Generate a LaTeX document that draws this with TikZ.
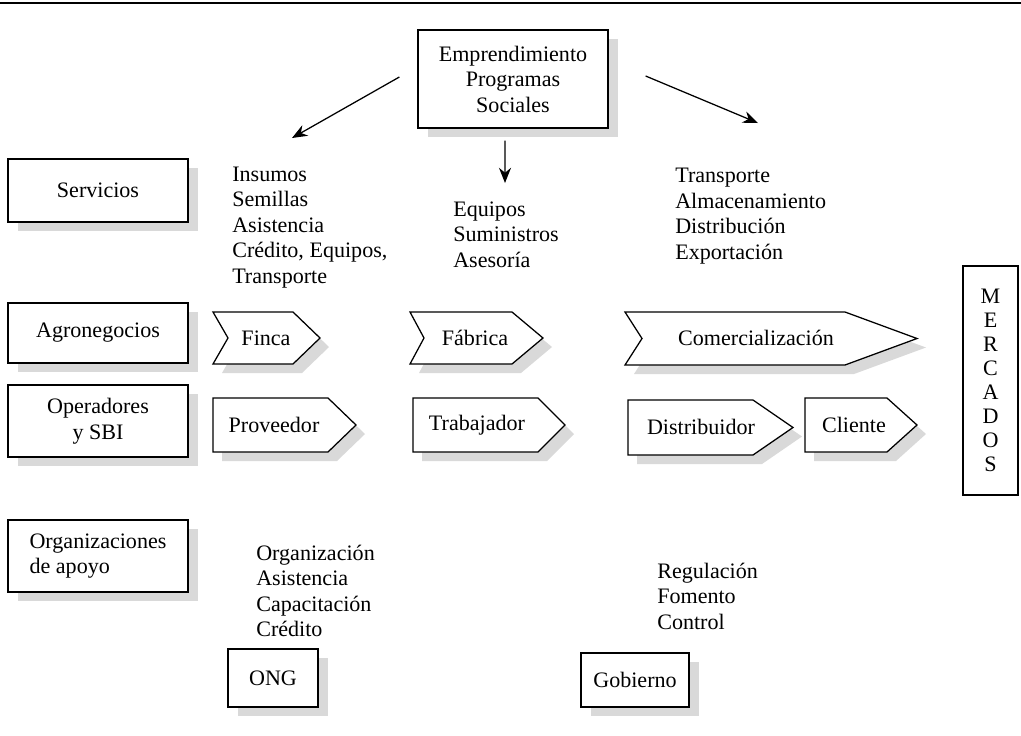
\documentclass[tikz,border=0pt]{standalone}
\usepackage{fontspec}
\setmainfont{Liberation Serif}
\usetikzlibrary{arrows.meta,shadows}
\tikzset{
  box/.style={draw,fill=white,line width=0.9pt,align=center,
    general shadow={fill=black!15,shadow xshift=2.4mm,shadow yshift=-2.2mm}},
  rowbox/.style={box,minimum width=45mm},
  lista/.style={align=left,anchor=west,inner sep=0pt},
  flecha/.style={line width=0.9pt,-{Stealth[length=3.8mm,width=3mm]}},
}
% chevron: left, notch, corner, tip, top, bottom
\newcommand{\chevron}[6]{%
  \fill[black!15,shift={(9,9)}] (#1,#5) -- (#3,#5) -- (#4,{(#5+#6)/2}) -- (#3,#6) -- (#1,#6) -- (#2,{(#5+#6)/2}) -- cycle;
  \filldraw[fill=white,line width=0.9pt] (#1,#5) -- (#3,#5) -- (#4,{(#5+#6)/2}) -- (#3,#6) -- (#1,#6) -- (#2,{(#5+#6)/2}) -- cycle;}
\begin{document}
\begin{tikzpicture}[x=0.25mm,y=-0.25mm,font=\fontsize{15.7}{18.1}\selectfont]
\useasboundingbox (0,0) rectangle (1021,735);
\draw[line width=0.6mm] (0,3) -- (1021,3);
% top
\node[box,minimum width=47.5mm,minimum height=24.5mm] (prog) at (513,79) {Emprendimiento\\Programas\\Sociales};
\coordinate (izq) at (292,138);
\coordinate (centro) at (505,183);
\coordinate (der) at (758,123);
\draw[flecha] ([xshift=-4.5mm,yshift=0.5mm]prog.west) -- (izq);
\draw[flecha] ([xshift=-2mm,yshift=-3mm]prog.south) -- (centro);
\draw[flecha] ([xshift=9.25mm,yshift=0.75mm]prog.east) -- (der);
% rows
\node[rowbox,minimum height=15.75mm] (serv) at (98,190.5) {Servicios};
\node[rowbox,minimum height=15mm] (agro) at (98,333) {Agronegocios};
\node[rowbox,minimum height=18mm] (oper) at (98,421) {Operadores\\y SBI};
\node[rowbox,minimum height=18mm,align=left] (orga) at (98,556) {Organizaciones\\de apoyo};
\node[lista] (insumos) at (232,227.5) {Insumos\\Semillas\\Asistencia\\Crédito, Equipos,\\Transporte};
\node[lista] (equipos) at (453,234.5) {Equipos\\Suministros\\Asesoría};
\node[lista] (transp) at (675,216) {Transporte\\Almacenamiento\\Distribución\\Exportación};
% chain
\chevron{213}{228}{293}{320}{312}{364}
\node (finca) at (266,338) {Finca};
\chevron{410}{424}{512}{543}{312}{364}
\node (fabrica) at (475,338) {Fábrica};
\chevron{625}{642}{845}{917}{312}{365}
\node (comer) at (756,338) {Comercialización};
\chevron{213}{213}{328}{356}{398}{452}
\node (prov) at (274,425) {Proveedor};
\chevron{413}{413}{538}{565}{398}{452}
\node (trab) at (477,425) {Trabajador};
\chevron{628}{628}{753}{793}{400}{455}
\node (dist) at (701,427) {Distribuidor};
\chevron{805}{805}{887}{917}{398}{452}
\node (cli) at (854,425) {Cliente};
\node[draw,line width=0.9pt,minimum width=13.75mm,minimum height=57.25mm,align=center,font=\fontsize{15.7}{17}\selectfont] (merc) at (990.5,380.5) {M\\E\\R\\C\\A\\D\\O\\S};
% support
\node[lista] (ongtxt) at (256,591) {Organización\\Asistencia\\Capacitación\\Crédito};
\node[lista] (govtxt) at (657,596) {Regulación\\Fomento\\Control};
\node[box,minimum width=22.5mm,minimum height=14.5mm] (ong) at (273,678) {ONG};
\node[box,minimum width=27mm,minimum height=13.5mm] (gob) at (635,680) {Gobierno};
\end{tikzpicture}
\end{document}
